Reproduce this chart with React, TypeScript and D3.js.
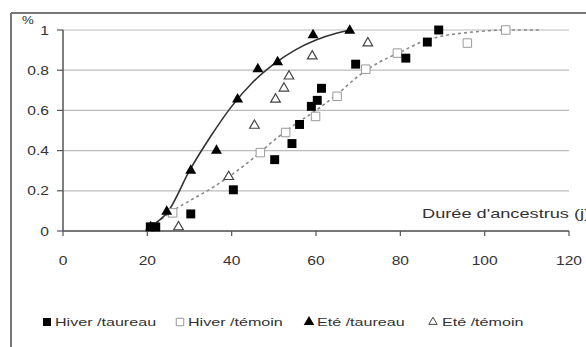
import React from 'react';
import * as d3 from 'd3';

// data: [durée (j), proportion]
const hiverTaureau = [
  [20.7, 0.02], [22, 0.02], [30.3, 0.085], [40.4, 0.205], [50.2, 0.355],
  [54.3, 0.435], [56.1, 0.53], [58.9, 0.62], [60.3, 0.65], [61.3, 0.71],
  [69.4, 0.83], [81.3, 0.86], [86.4, 0.94], [89.1, 1.0],
];
const hiverTemoin = [
  [21, 0.02], [26, 0.09], [46.8, 0.39], [52.8, 0.49], [59.9, 0.57],
  [65, 0.67], [71.8, 0.805], [79.3, 0.885], [95.9, 0.935], [105, 1.0],
];
const eteTaureau = [
  [20.8, 0.02], [24.6, 0.097], [30.3, 0.3], [36.4, 0.4], [41.4, 0.655],
  [46.2, 0.805], [50.9, 0.84], [59.3, 0.975], [68, 0.997],
];
const eteTemoin = [
  [27.4, 0.02], [39.3, 0.27], [45.4, 0.525], [50.4, 0.655], [52.4, 0.71],
  [53.6, 0.77], [59.1, 0.87], [72.3, 0.935],
];

// fitted curves, also
const curveEte = [
  [20.5, 0.02], [25, 0.1], [30, 0.3], [35, 0.47], [40, 0.62], [45, 0.74],
  [50, 0.83], [55, 0.9], [60, 0.95], [65, 0.985], [68, 1.0],
];
const curveHiver = [
  [21, 0.02], [26, 0.1], [30, 0.15], [35, 0.21], [40, 0.28], [45, 0.36],
  [50, 0.45], [55, 0.53], [60, 0.6], [65, 0.68], [70, 0.77], [75, 0.84],
  [80, 0.89], [85, 0.94], [90, 0.97], [95, 0.985], [100, 0.995], [105, 1.0],
  [113, 1.0],
];

const xTicks = [0, 20, 40, 60, 80, 100, 120];
const yTicks = [0, 0.2, 0.4, 0.6, 0.8, 1];
const legendLabels = ['Hiver /taureau', 'Hiver /témoin', 'Eté /taureau', 'Eté /témoin'];

const W = 586;
const H = 347;
const font = 'Liberation Sans, Arial, sans-serif';

// the scanned figure is a bit stretched horizontally
const Txt = ({ x, y, size, sx, anchor, children }: any) => (
  <text
    transform={`translate(${x},${y}) scale(${sx},1)`}
    textAnchor={anchor || 'start'}
    fontSize={size}
    fill="#333"
  >
    {children}
  </text>
);

const App = () => {
  const x = d3.scaleLinear().domain([0, 120]).range([63, 569]);
  const y = d3.scaleLinear().domain([0, 1]).range([231, 30]);

  const line = d3
    .line<number[]>()
    .x(d => x(d[0]))
    .y(d => y(d[1]))
    .curve(d3.curveMonotoneX);

  const square = d3.symbol().type(d3.symbolSquare).size(80)();
  const openSquare = d3.symbol().type(d3.symbolSquare).size(72)();
  const tri = d3.symbol().type(d3.symbolTriangle).size(52)();
  const openTri = d3.symbol().type(d3.symbolTriangle).size(40)();

  const legendX = [47, 180, 309, 433];
  const legendY = 322;

  return (
    <svg
      width={W}
      height={H}
      style={{ position: 'absolute', left: 0, top: 0, background: '#fff' }}
      fontFamily={font}
    >
      {/* outer frame */}
      <line x1={11} x2={W} y1={13} y2={13} stroke="#777" strokeWidth={2} />
      <line x1={11} x2={11} y1={13} y2={H} stroke="#777" strokeWidth={2} />

      {/* grid */}
      {yTicks.map(t => (
        <line
          key={'g' + t}
          x1={x(0)}
          x2={x(120)}
          y1={y(t)}
          y2={y(t)}
          stroke={t === 1 ? '#ddd' : '#bbb'}
          strokeWidth={t === 1 ? 2 : 1.2}
        />
      ))}

      {/* axes */}
      <line x1={x(0)} x2={x(0)} y1={y(1)} y2={y(0)} stroke="#555" strokeWidth={1.5} />
      <line x1={x(0)} x2={x(120)} y1={y(0)} y2={y(0)} stroke="#555" strokeWidth={1.5} />
      {yTicks.map(t => (
        <g key={'yt' + t}>
          <line x1={x(0) - 6} x2={x(0)} y1={y(t)} y2={y(t)} stroke="#555" strokeWidth={1.2} />
          <Txt x={49} y={y(t) + 4.5} size={12} sx={1.3} anchor="end">
            {t === 1 ? '1' : t === 0 ? '0' : t.toFixed(1)}
          </Txt>
        </g>
      ))}
      <Txt x={22} y={24} size={11} sx={1.2}>%</Txt>
      {xTicks.map(t => (
        <g key={'xt' + t}>
          <line x1={x(t)} x2={x(t)} y1={y(0)} y2={y(0) + 5} stroke="#555" strokeWidth={1.2} />
          <Txt x={x(t)} y={265} size={12} sx={1.3} anchor="middle">
            {t}
          </Txt>
        </g>
      ))}
      <Txt x={422} y={218} size={13} sx={1.4}>Durée d'ancestrus (j)</Txt>

      {/* fitted curves */}
      <path d={line(curveHiver) || ''} fill="none" stroke="#888" strokeWidth={1.6} strokeDasharray="3,3" />
      <path d={line(curveEte) || ''} fill="none" stroke="#333" strokeWidth={1.6} />

      {/* points */}
      {hiverTemoin.map((d, i) => (
        <path key={'hm' + i} d={openSquare} transform={`translate(${x(d[0])},${y(d[1])})`}
          fill="#fff" stroke="#999" strokeWidth={1} />
      ))}
      {eteTemoin.map((d, i) => (
        <path key={'em' + i} d={openTri} transform={`translate(${x(d[0])},${y(d[1])})`}
          fill="#fff" stroke="#444" strokeWidth={1.2} />
      ))}
      {hiverTaureau.map((d, i) => (
        <path key={'ht' + i} d={square} transform={`translate(${x(d[0])},${y(d[1])})`} fill="#000" />
      ))}
      {eteTaureau.map((d, i) => (
        <path key={'et' + i} d={tri} transform={`translate(${x(d[0])},${y(d[1])})`} fill="#000" />
      ))}

      {/* legend */}
      {legendLabels.map((lab, i) => (
        <g key={lab} transform={`translate(${legendX[i]},${legendY})`}>
          {i === 0 && <path d={d3.symbol().type(d3.symbolSquare).size(64)() || ''} fill="#000" />}
          {i === 1 && <path d={d3.symbol().type(d3.symbolSquare).size(56)() || ''} fill="#fff" stroke="#999" />}
          {i === 2 && <path d={d3.symbol().type(d3.symbolTriangle).size(48)() || ''} fill="#000" />}
          {i === 3 && <path d={d3.symbol().type(d3.symbolTriangle).size(30)() || ''} fill="#fff" stroke="#444" />}
          <Txt x={i === 3 ? 9 : 8} y={4} size={11.5} sx={1.4}>{lab}</Txt>
        </g>
      ))}
    </svg>
  );
};

export default App;
